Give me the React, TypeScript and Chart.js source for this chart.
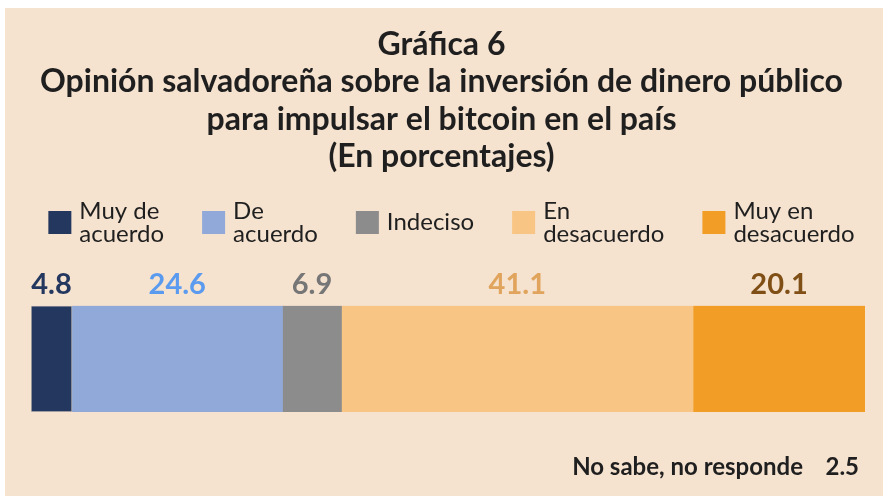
import { useEffect, useRef } from 'react';
import { Chart, registerables } from 'chart.js';

Chart.register(...registerables);

const titleLines = [
  'Gráfica 6',
  'Opinión salvadoreña sobre la inversión de dinero público',
  'para impulsar el bitcoin en el país',
  '(En porcentajes)',
];
const categories = ['Muy de acuerdo', 'De acuerdo', 'Indeciso', 'En desacuerdo', 'Muy en desacuerdo'];
const legendLines = [['Muy de', 'acuerdo'], ['De', 'acuerdo'], ['Indeciso'], ['En', 'desacuerdo'], ['Muy en', 'desacuerdo']];
const values = [4.8, 24.6, 6.9, 41.1, 20.1];
const noAnswerLabel = 'No sabe, no responde';
const noAnswerValue = 2.5;

const barColors = ['#24375F', '#91A9D8', '#8C8C8C', '#F8C584', '#F19D26'];
const valueColors = ['#24375F', '#5B9BEF', '#767676', '#E0A45D', '#7F4F15'];
const BG = '#F5E2CF';
const TEXT = '#1F1F1F';

const total = values.reduce((a, b) => a + b, 0);

const extrasPlugin = {
  id: 'extras',
  afterDraw(chart: any) {
    const { ctx, chartArea } = chart;
    ctx.save();
    // value labels above segments
    ctx.font = 'bold 29px Lato';
    ctx.textAlign = 'center';
    ctx.textBaseline = 'middle';
    values.forEach((v, i) => {
      const el = chart.getDatasetMeta(i).data[0];
      if (!el) return;
      const cx = (el.x + el.base) / 2;
      ctx.fillStyle = valueColors[i];
      ctx.fillText(v.toFixed(1), cx, chartArea.top - 21);
    });

    // legend
    ctx.font = '24px Lato';
    ctx.textAlign = 'left';
    const box = 23;
    const gapText = 8;
    const gapItem = 38;
    const lineH = 23;
    const widths = legendLines.map((lines) =>
      box + gapText + Math.max(...lines.map((l) => ctx.measureText(l).width))
    );
    const totalW = widths.reduce((a, b) => a + b, 0) + gapItem * (widths.length - 1);
    const center = (chartArea.left + chartArea.right) / 2 + 3.5;
    let x = center - totalW / 2;
    const boxTop = 203;
    const midY = boxTop + box / 2;
    legendLines.forEach((lines, i) => {
      ctx.fillStyle = barColors[i];
      ctx.fillRect(x, boxTop, box, box);
      ctx.fillStyle = TEXT;
      const y0 = midY - ((lines.length - 1) * lineH) / 2;
      lines.forEach((l, j) => ctx.fillText(l, x + box + gapText, y0 + j * lineH));
      x += widths[i] + gapItem;
    });

    // no answer footer
    ctx.font = 'bold 24px Lato';
    ctx.textAlign = 'right';
    ctx.fillStyle = TEXT;
    const fy = chartArea.bottom + 55;
    ctx.fillText(noAnswerLabel, chartArea.right - 62, fy);
    ctx.fillText(noAnswerValue.toFixed(1), chartArea.right - 6, fy);
    ctx.restore();
  },
};

export default function App() {
  const ref = useRef<HTMLCanvasElement>(null);
  useEffect(() => {
    if (!ref.current) return;
    const chart = new Chart(ref.current, {
      type: 'bar',
      data: {
        labels: [''],
        datasets: categories.map((c, i) => ({
          label: c,
          data: [values[i]],
          backgroundColor: barColors[i],
          borderWidth: i === 0 ? 1 : 0,
          borderColor: '#C9C1B8',
          borderSkipped: false,
          barPercentage: 1,
          categoryPercentage: 1,
        })),
      },
      options: {
        indexAxis: 'y',
        responsive: false,
        animation: false,
        devicePixelRatio: 1,
        layout: { padding: { left: 13, right: 18, top: 0, bottom: 84 } },
        scales: {
          x: { stacked: true, min: 0, max: total, display: false },
          y: {
            stacked: true,
            display: true,
            ticks: { display: false },
            grid: { display: false },
            border: { display: false },
            afterFit: (s: any) => {
              s.width = 13;
            },
          },
        },
        plugins: {
          legend: { display: false },
          tooltip: { enabled: false },
          title: {
            display: true,
            text: titleLines,
            color: TEXT,
            font: { family: 'Lato', size: 32, weight: 'bold', lineHeight: 1.17 },
            padding: { top: 18, bottom: 130 },
          },
        },
      },
      plugins: [extrasPlugin],
    });
    return () => chart.destroy();
  }, []);
  return (
    <div style={{ position: 'absolute', left: 5, top: 8, width: 878, height: 488, background: BG }}>
      <canvas ref={ref} width={878} height={488} style={{ display: 'block' }} />
    </div>
  );
}
